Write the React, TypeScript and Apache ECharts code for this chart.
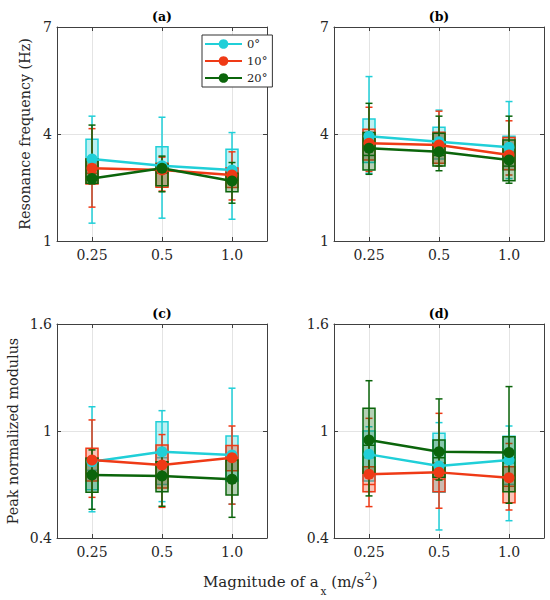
import React, { useEffect, useRef } from 'react';
import * as echarts from 'echarts';

// ---------- data ----------
const categories = ['0.25', '0.5', '1.0'];
const seriesNames = ['0°', '10°', '20°'];
const freqTicks = [1, 4, 7];
const modTicks = [0.4, 1, 1.6];

// each row: [min, q1, median, q3, max] for 0.25, 0.5, 1.0
// (a) resonance frequency
const boxA0 = [[1.5, 2.7, 3.1, 3.85, 4.5], [1.64, 2.9, 3.1, 3.64, 4.47], [1.61, 2.7, 3.0, 3.57, 4.04]];
const boxA10 = [[1.95, 2.6, 2.9, 3.3, 4.15], [2.4, 2.51, 2.9, 3.18, 3.35], [2.15, 2.5, 2.8, 3.05, 3.5]];
const boxA20 = [[2.6, 2.62, 2.8, 3.3, 4.25], [2.38, 2.55, 3.0, 3.15, 3.38], [2.06, 2.38, 2.7, 2.9, 3.2]];
const meanA0 = [3.3, 3.11, 2.99];
const meanA10 = [3.04, 2.99, 2.85];
const meanA20 = [2.75, 3.04, 2.68];
// (b) resonance frequency
const boxB0 = [[2.9, 3.2, 3.8, 4.42, 5.61], [3.1, 3.3, 3.7, 4.19, 4.67], [2.75, 3.0, 3.5, 3.94, 4.91]];
const boxB10 = [[2.95, 3.27, 3.6, 4.13, 4.75], [3.1, 3.18, 3.5, 4.05, 4.64], [2.85, 3.0, 3.3, 3.9, 4.37]];
const boxB20 = [[2.87, 2.99, 3.4, 4.04, 4.86], [2.97, 3.1, 3.4, 4.02, 4.5], [2.62, 2.69, 3.1, 3.83, 4.5]];
const meanB0 = [3.94, 3.78, 3.63];
const meanB10 = [3.74, 3.69, 3.41];
const meanB20 = [3.6, 3.5, 3.27];
// (c) peak normalized modulus
const boxC0 = [[0.547, 0.67, 0.78, 0.85, 1.136], [0.604, 0.7, 0.85, 1.052, 1.114], [0.59, 0.72, 0.84, 0.972, 1.24]];
const boxC10 = [[0.628, 0.72, 0.82, 0.903, 1.062], [0.572, 0.68, 0.8, 0.922, 0.98], [0.59, 0.777, 0.85, 0.918, 1.028]];
const boxC20 = [[0.561, 0.656, 0.76, 0.847, 0.894], [0.578, 0.66, 0.75, 0.828, 0.88], [0.516, 0.641, 0.73, 0.837, 0.86]];
const meanC0 = [0.828, 0.884, 0.866];
const meanC10 = [0.837, 0.809, 0.85];
const meanC20 = [0.753, 0.748, 0.729];
// (d) peak normalized modulus
const boxD0 = [[0.66, 0.72, 0.85, 1.0, 1.024], [0.445, 0.656, 0.78, 0.987, 1.047], [0.497, 0.7, 0.82, 0.97, 1.028]];
const boxD10 = [[0.576, 0.66, 0.7, 0.8, 1.071], [0.567, 0.66, 0.73, 0.82, 1.099], [0.557, 0.598, 0.69, 0.8, 0.93]];
const boxD20 = [[0.636, 0.763, 0.92, 1.127, 1.282], [0.725, 0.74, 0.85, 0.95, 1.18], [0.595, 0.66, 0.85, 0.968, 1.249]];
const meanD0 = [0.869, 0.804, 0.837];
const meanD10 = [0.757, 0.768, 0.738];
const meanD20 = [0.95, 0.884, 0.88];

const panelTitles = ['(a)', '(b)', '(c)', '(d)'];
const yTitles = ['Resonance frequency (Hz)', 'Peak normalized modulus'];
const xTitleParts = ['Magnitude of a', 'x', ' (m/s', '2', ')'];

// ---------- style ----------
const colors = ['#20cfd8', '#ef3a16', '#0b650b'];
const fills = ['rgba(32,207,216,0.3)', 'rgba(239,58,22,0.3)', 'rgba(11,101,11,0.3)'];
const FONT = 'DejaVu Serif';
const TEXT_COLOR = '#262626';
const AXIS_COLOR = '#404040';
const GRID_COLOR = '#e4e4e4';

const panels = [
  { boxes: [boxA0, boxA10, boxA20], means: [meanA0, meanA10, meanA20], ticks: freqTicks, left: 57, top: 27 },
  { boxes: [boxB0, boxB10, boxB20], means: [meanB0, meanB10, meanB20], ticks: freqTicks, left: 334, top: 27 },
  { boxes: [boxC0, boxC10, boxC20], means: [meanC0, meanC10, meanC20], ticks: modTicks, left: 57, top: 324 },
  { boxes: [boxD0, boxD10, boxD20], means: [meanD0, meanD10, meanD20], ticks: modTicks, left: 334, top: 324 },
];
const W = 210;
const H = 214;

function measure(text: string, size: number): number {
  const c = document.createElement('canvas').getContext('2d');
  if (!c) return text.length * size * 0.55;
  c.font = `${size}px "${FONT}"`;
  return c.measureText(text).width;
}

function buildOption() {
  const grid: any[] = [];
  const xAxis: any[] = [];
  const yAxis: any[] = [];
  const boxSeries: any[] = [];
  const lineSeries: any[] = [];
  const graphic: any[] = [];

  panels.forEach((p, pi) => {
    grid.push({ left: p.left, top: p.top, width: W, height: H, containLabel: false });
    const tMin = p.ticks[0];
    const tMax = p.ticks[p.ticks.length - 1];
    const interval = p.ticks[1] - p.ticks[0];
    xAxis.push({
      type: 'category', gridIndex: pi, data: categories, position: 'bottom', boundaryGap: true,
      axisLine: { show: true, lineStyle: { color: AXIS_COLOR, width: 1 } },
      axisTick: { show: true, inside: true, length: 4, alignWithLabel: true, lineStyle: { color: AXIS_COLOR } },
      axisLabel: { show: true, fontFamily: FONT, fontSize: 14, color: TEXT_COLOR, margin: 7 },
      splitLine: { show: true, alignWithLabel: true, lineStyle: { color: GRID_COLOR, width: 1 } },
    });
    xAxis.push({
      type: 'category', gridIndex: pi, data: categories, position: 'top', boundaryGap: true,
      axisLine: { show: true, lineStyle: { color: AXIS_COLOR, width: 1 } },
      axisTick: { show: true, inside: true, length: 4, alignWithLabel: true, lineStyle: { color: AXIS_COLOR } },
      axisLabel: { show: false },
      splitLine: { show: false },
    });
    yAxis.push({
      type: 'value', gridIndex: pi, min: tMin, max: tMax, interval, position: 'left',
      axisLine: { show: true, lineStyle: { color: AXIS_COLOR, width: 1 } },
      axisTick: { show: true, inside: true, length: 4, lineStyle: { color: AXIS_COLOR } },
      axisLabel: {
        show: true, fontFamily: FONT, fontSize: 14, color: TEXT_COLOR, margin: 5,
        formatter: (v: number) => String(Math.round(v * 10) / 10),
      },
      splitLine: { show: true, lineStyle: { color: GRID_COLOR, width: 1 } },
    });
    yAxis.push({
      type: 'value', gridIndex: pi, min: tMin, max: tMax, interval, position: 'right',
      axisLine: { show: true, lineStyle: { color: AXIS_COLOR, width: 1 } },
      axisTick: { show: true, inside: true, length: 4, lineStyle: { color: AXIS_COLOR } },
      axisLabel: { show: false },
      splitLine: { show: false },
    });

    p.boxes.forEach((box, si) => {
      const color = colors[si];
      const fill = fills[si];
      boxSeries.push({
        type: 'custom',
        name: 'box' + pi + '_' + si,
        xAxisIndex: pi * 2,
        yAxisIndex: pi * 2,
        z: 2,
        encode: { x: 0, y: [1, 2, 3, 4, 5] },
        data: box.map((b, ci) => [ci, b[0], b[1], b[2], b[3], b[4]]),
        renderItem: (params: any, api: any) => {
          const ci = api.value(0);
          const pMin = api.coord([ci, api.value(1)]);
          const pQ1 = api.coord([ci, api.value(2)]);
          const pMed = api.coord([ci, api.value(3)]);
          const pQ3 = api.coord([ci, api.value(4)]);
          const pMax = api.coord([ci, api.value(5)]);
          const cx = pMin[0];
          const bw = 12;
          const cw = 7;
          const st = { stroke: color, lineWidth: 1.5, fill: 'none' };
          return {
            type: 'group',
            children: [
              { type: 'line', shape: { x1: cx, y1: pMin[1], x2: cx, y2: pMax[1] }, style: st },
              { type: 'line', shape: { x1: cx - cw / 2, y1: pMin[1], x2: cx + cw / 2, y2: pMin[1] }, style: st },
              { type: 'line', shape: { x1: cx - cw / 2, y1: pMax[1], x2: cx + cw / 2, y2: pMax[1] }, style: st },
              {
                type: 'rect',
                shape: { x: cx - bw / 2, y: pQ3[1], width: bw, height: pQ1[1] - pQ3[1] },
                style: { fill, stroke: color, lineWidth: 1.5 },
              },
              { type: 'line', shape: { x1: cx - bw / 2, y1: pMed[1], x2: cx + bw / 2, y2: pMed[1] }, style: st },
            ],
          };
        },
      });
    });
    p.means.forEach((m, si) => {
      lineSeries.push({
        type: 'line',
        name: seriesNames[si],
        xAxisIndex: pi * 2,
        yAxisIndex: pi * 2,
        z: 3,
        data: m,
        symbol: 'circle',
        symbolSize: 11,
        color: colors[si],
        lineStyle: { color: colors[si], width: 2.5 },
        itemStyle: { color: colors[si] },
      });
    });

    graphic.push({
      type: 'text', x: p.left + W / 2, y: p.top - 10.5,
      style: { text: panelTitles[pi], fontFamily: FONT, fontWeight: 'bold', fontSize: 12.5, fill: '#000', align: 'center', verticalAlign: 'middle' },
    });
  });

  graphic.push({
    type: 'text', x: 25, y: 134, rotation: Math.PI / 2,
    style: { text: yTitles[0], fontFamily: FONT, fontSize: 14.3, fill: TEXT_COLOR, align: 'center', verticalAlign: 'middle' },
  });
  graphic.push({
    type: 'text', x: 12.5, y: 431, rotation: Math.PI / 2,
    style: { text: yTitles[1], fontFamily: FONT, fontSize: 14.3, fill: TEXT_COLOR, align: 'center', verticalAlign: 'middle' },
  });

  // x title with subscript and superscript
  const mainSize = 15;
  const smallSize = 10.5;
  let x = 203;
  const yMain = 582;
  const w0 = measure(xTitleParts[0], mainSize);
  graphic.push({ type: 'text', x, y: yMain, style: { text: xTitleParts[0], fontFamily: FONT, fontSize: mainSize, fill: TEXT_COLOR, align: 'left', verticalAlign: 'middle' } });
  x += w0 + 2;
  const w1 = measure(xTitleParts[1], smallSize);
  graphic.push({ type: 'text', x, y: yMain + 9, style: { text: xTitleParts[1], fontFamily: FONT, fontSize: smallSize, fill: TEXT_COLOR, align: 'left', verticalAlign: 'middle' } });
  x += w1;
  const w2 = measure(xTitleParts[2], mainSize);
  graphic.push({ type: 'text', x, y: yMain, style: { text: xTitleParts[2], fontFamily: FONT, fontSize: mainSize, fill: TEXT_COLOR, align: 'left', verticalAlign: 'middle' } });
  x += w2 + 0.5;
  const w3 = measure(xTitleParts[3], smallSize);
  graphic.push({ type: 'text', x, y: yMain - 6, style: { text: xTitleParts[3], fontFamily: FONT, fontSize: smallSize, fill: TEXT_COLOR, align: 'left', verticalAlign: 'middle' } });
  x += w3 + 0.5;
  graphic.push({ type: 'text', x, y: yMain, style: { text: xTitleParts[4], fontFamily: FONT, fontSize: mainSize, fill: TEXT_COLOR, align: 'left', verticalAlign: 'middle' } });

  return {
    animation: false,
    backgroundColor: '#ffffff',
    textStyle: { fontFamily: FONT },
    grid,
    xAxis,
    yAxis,
    legend: {
      data: seriesNames,
      orient: 'vertical',
      left: 202,
      top: 35,
      itemWidth: 37,
      itemHeight: 12,
      itemGap: 5,
      padding: [3, 5, 3, 2],
      borderColor: '#333',
      borderWidth: 1,
      backgroundColor: '#fff',
      selectedMode: false,
      textStyle: { fontFamily: FONT, fontSize: 11.5, color: TEXT_COLOR },
    },
    series: [...boxSeries, ...lineSeries],
    graphic,
  };
}

export default function App() {
  const ref = useRef<HTMLDivElement>(null);
  useEffect(() => {
    if (!ref.current) return;
    const chart = echarts.init(ref.current, undefined, { renderer: 'svg' });
    chart.setOption(buildOption() as any);
    return () => chart.dispose();
  }, []);
  return (
    <div
      ref={ref}
      style={{ position: 'absolute', left: 0, top: 0, width: 550, height: 600, background: '#fff' }}
    />
  );
}
